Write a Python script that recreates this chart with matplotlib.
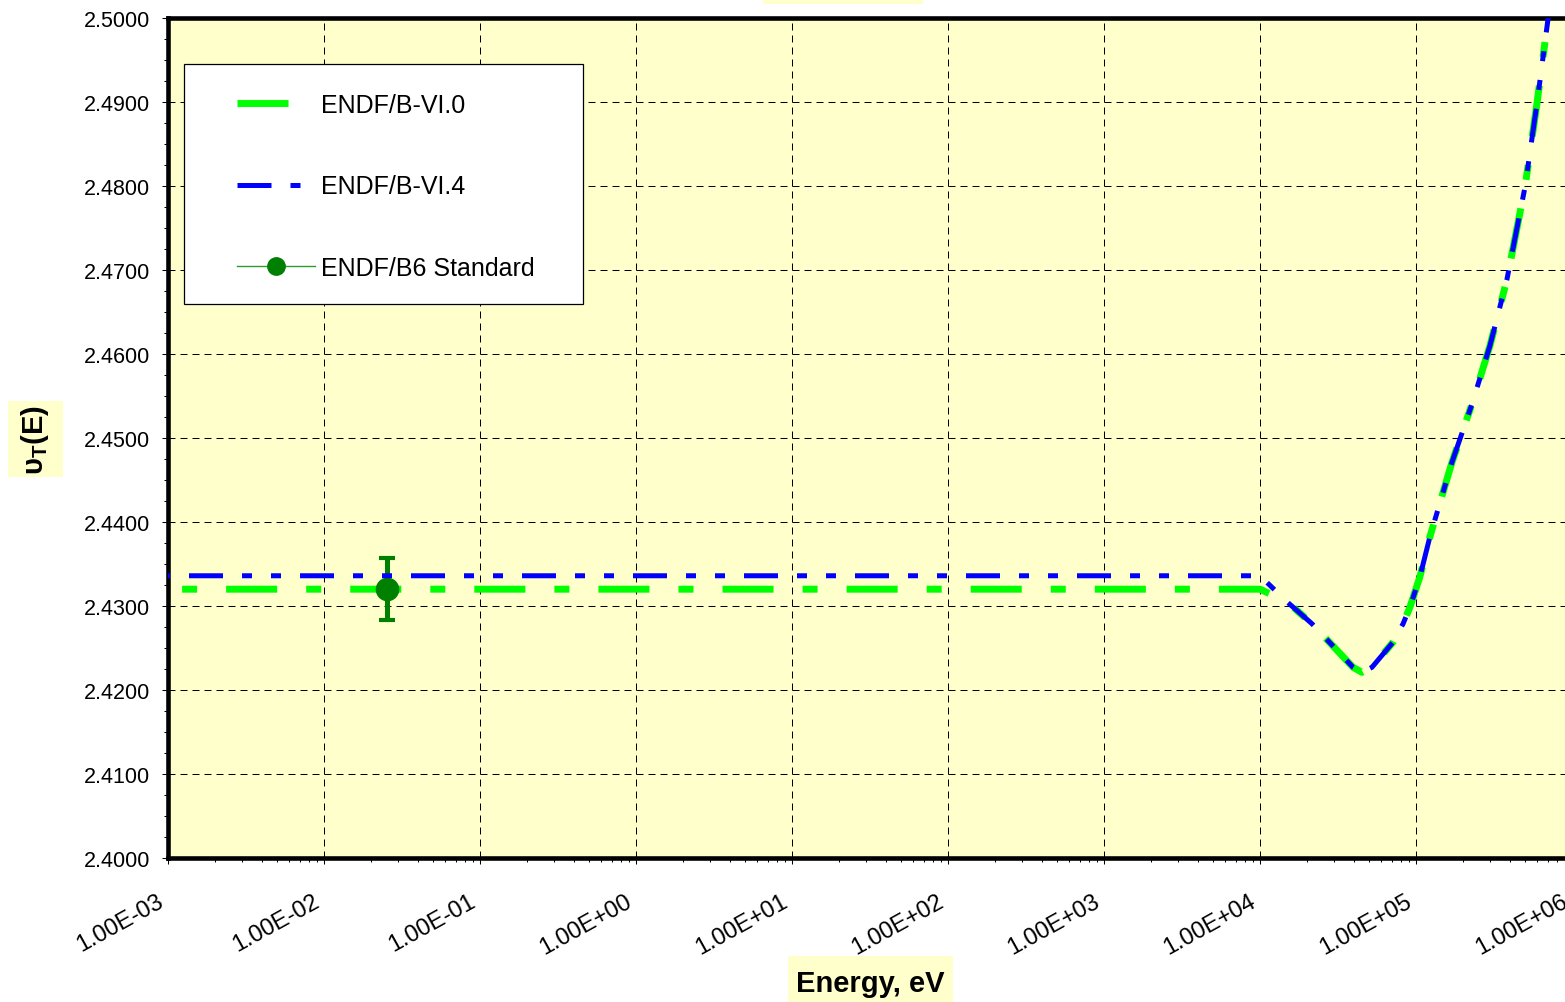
import numpy as np
import matplotlib.pyplot as plt
import matplotlib.transforms as mtransforms
from matplotlib.lines import Line2D
from matplotlib.patches import Rectangle
from matplotlib.ticker import MultipleLocator, LogLocator, FuncFormatter, NullFormatter

plt.rcParams['font.family'] = ['Liberation Sans', 'DejaVu Sans']
plt.rcParams['mathtext.fontset'] = 'custom'
plt.rcParams['mathtext.rm'] = 'Liberation Sans'
plt.rcParams['mathtext.bf'] = 'Liberation Sans:bold'
plt.rcParams['mathtext.it'] = 'Liberation Sans:italic'

# nu-bar total, U-235 evaluations
energy = [1.0e-3, 1.0e4, 1.49e4, 2.15e4, 3.95e4, 4.51e4, 5.22e4, 7.13e4, 8.27e4,
          9.16e4, 1.06e5, 1.23e5, 1.70e5, 2.29e5, 2.98e5, 3.83e5, 5.0e5, 5.97e5,
          7.02e5, 1.0e6]
nu_vi0 = [2.4320, 2.4320, 2.4305, 2.4279, 2.4227, 2.4221, 2.4227, 2.4257, 2.4279,
          2.4299, 2.4335, 2.4383, 2.4471, 2.4541, 2.4610, 2.4689, 2.4799, 2.4899,
          2.4999, 2.5280]
nu_vi4 = [2.4336, 2.4336, 2.4305, 2.4279, 2.4227, 2.4221, 2.4227, 2.4257, 2.4279,
          2.4299, 2.4335, 2.4383, 2.4471, 2.4541, 2.4610, 2.4689, 2.4799, 2.4899,
          2.4999, 2.5280]

e_std = [0.0253]
nu_std = [2.4320]
nu_std_err = [0.0037]

labels = ['ENDF/B-VI.0', 'ENDF/B-VI.4', 'ENDF/B6 Standard']
xticks = 10.0 ** np.arange(-3, 7)

W, H = 1565, 1003
fig = plt.figure(figsize=(W / 100, H / 100), dpi=100)


def px_rect(x0, y0, x1, y1, **kw):
    # rectangle given in figure pixels, origin top-left
    return Rectangle((x0 / W, 1 - y1 / H), (x1 - x0) / W, (y1 - y0) / H,
                     transform=fig.transFigure, **kw)


ax = fig.add_axes([168 / W, 1 - 859 / H, (1572 - 168) / W, (859 - 19) / H])
ax.set_facecolor('#FFFFCC')

green_ls = (9.5, (7.35, 4.18, 2.16, 4.18))
blue_ls = (18, (6.8, 3.8, 2.0, 3.8, 2.0, 3.8))

ax.plot(energy, nu_vi0, color='#00FF00', lw=5, ls=green_ls, zorder=2)
ax.errorbar(e_std, nu_std, yerr=nu_std_err, fmt='o', color='#008000', ms=16,
            elinewidth=3.6, capsize=6.1, capthick=3, zorder=3)
ax.plot(energy, nu_vi4, color='#0000FF', lw=3.6, ls=blue_ls, zorder=4)

ax.set_xscale('log')
ax.set_xlim(1e-3, 1e6)
ax.set_ylim(2.4, 2.5)

ax.yaxis.set_major_locator(MultipleLocator(0.01))
ax.yaxis.set_minor_locator(MultipleLocator(0.0025))
ax.yaxis.set_major_formatter(FuncFormatter(lambda v, p: f'{v:.4f}'))

ax.grid(True, which='major', color='black', lw=0.72, ls=(0, (7, 5)))
ax.set_axisbelow(True)

for side in ['left', 'top', 'bottom']:
    ax.spines[side].set_linewidth(3.3)
ax.spines['right'].set_visible(False)

ax.tick_params(which='major', direction='out', length=4.5, width=0.75)
ax.tick_params(which='minor', direction='out', length=3, width=0.75)
ax.tick_params(axis='y', pad=8.5, labelsize=15.5)
ax.tick_params(axis='x', pad=18.5, labelsize=17)

ax.set_xticks(xticks)
ax.xaxis.set_minor_locator(LogLocator(base=10, subs=np.arange(2, 10)))
ax.xaxis.set_minor_formatter(NullFormatter())
ax.set_xticklabels([f'{v:.2E}' for v in xticks], rotation=29, ha='right',
                   va='top', rotation_mode='anchor')

shift = mtransforms.ScaledTranslation(-11 / 100, 0, fig.dpi_scale_trans)
for lab in ax.get_xticklabels():
    lab.set_transform(lab.get_transform() + shift)

# legend frame and entries
ax.add_patch(px_rect(184, 65, 583, 305, facecolor='white', edgecolor='black',
                     lw=0.9, zorder=5))
handles = [
    Line2D([], [], color='#00FF00', lw=5, ls=(0, (7.35, 4.18, 2.16, 4.18))),
    Line2D([], [], color='#0000FF', lw=3.6, ls=(0, (6.8, 3.8, 2.0, 3.8, 2.0, 3.8))),
    Line2D([], [], color='#2E9B2E', lw=1, marker='o', ms=12.5,
           mfc='#008000', mec='#008000'),
]
leg = ax.legend(handles, labels, loc='upper left',
                bbox_to_anchor=(237 / W, 1 - 94 / H),
                bbox_transform=fig.transFigure, frameon=False, borderpad=0,
                borderaxespad=0, handlelength=3.12, handletextpad=0.24,
                labelspacing=2.3, fontsize=18)
leg.set_zorder(6)

# axis titles on their yellow label boxes
fig.patches.append(px_rect(788, 957, 953, 1003, facecolor='#FFFFCC',
                           edgecolor='none'))
fig.patches.append(px_rect(8, 402, 63, 478, facecolor='#FFFFCC',
                           edgecolor='none'))
fig.patches.append(px_rect(763, 0, 923, 5, facecolor='#FFFFCC',
                           edgecolor='none'))
fig.text(870 / W, 1 - 992 / H, 'Energy, eV', ha='center', va='baseline',
         fontsize=21, fontweight='bold')
fig.text(35 / W, 1 - 440 / H, r'$\mathbf{υ_T(E)}$', rotation=90, ha='center',
         va='center', fontsize=21)

fig.savefig('out.png', dpi=100)
